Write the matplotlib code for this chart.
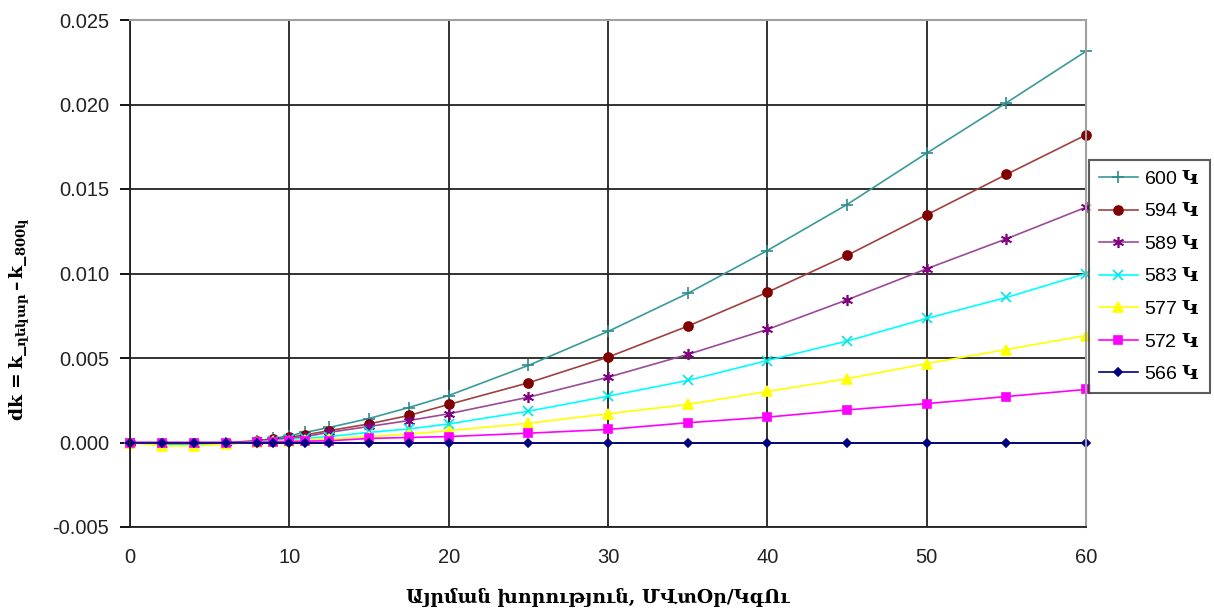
import numpy as np
import matplotlib.pyplot as plt

plt.rcParams["font.family"] = ["Liberation Sans", "DejaVu Sans"]
plt.rcParams["mathtext.fontset"] = "custom"
plt.rcParams["mathtext.rm"] = "DejaVu Serif"
plt.rcParams["mathtext.bf"] = "DejaVu Serif:bold"

# burnup, MWd/kgU
burnup = [0, 2, 4, 6, 8, 9, 10, 11, 12.5, 15, 17.5, 20, 25, 30, 35, 40, 45, 50, 55, 60]

dk_600 = [0, -0.0001, -0.0001, -0.00005, 0.0001, 0.00024, 0.0004, 0.0006, 0.00089, 0.00142, 0.00207,
          0.00278, 0.00456, 0.00657, 0.00882, 0.01136, 0.01408, 0.01712, 0.0201, 0.02315]
dk_594 = [0, 0, 0, 0, 0.0001, 0.0002, 0.0003, 0.00045, 0.0007, 0.0011, 0.0016,
          0.00225, 0.00353, 0.00505, 0.00688, 0.00889, 0.01107, 0.01347, 0.01586, 0.0182]
dk_589 = [0, -0.0001, -0.0001, -0.00005, 0.00005, 0.00015, 0.00025, 0.00035, 0.0006, 0.00095, 0.0013,
          0.0017, 0.00268, 0.00386, 0.00521, 0.00669, 0.00844, 0.01028, 0.01205, 0.01392]
dk_583 = [0, -0.00015, -0.00015, -0.0001, 0.00005, 0.0001, 0.00018, 0.00025, 0.00035, 0.0006, 0.0008,
          0.0011, 0.00185, 0.00274, 0.00367, 0.00485, 0.0060, 0.00734, 0.00858, 0.0100]
dk_577 = [0, -0.0002, -0.0002, -0.0001, 0.00003, 0.00006, 0.0001, 0.00015, 0.0002, 0.00035, 0.0005,
          0.0007, 0.00114, 0.0017, 0.00225, 0.00302, 0.00377, 0.00467, 0.0055, 0.00633]
dk_572 = [0, 0, 0, 0, 0.00002, 0.00004, 0.00006, 0.00008, 0.0001, 0.00024, 0.0003,
          0.00035, 0.00055, 0.00077, 0.00117, 0.0015, 0.00193, 0.0023, 0.00272, 0.00314]
dk_566 = [0] * 20

series = [
    ("600", dk_600, "#3a9a9a", "+", 9, "#2e8b8b"),
    ("594", dk_594, "#a04040", "o", 6.5, "#800000"),
    ("589", dk_589, "#9a4a9a", (6, 2, 0), 8, "#800080"),
    ("583", dk_583, "#00ffff", "x", 6.5, "#00e5e5"),
    ("577", dk_577, "#ffff00", "^", 6.5, "#ffff00"),
    ("572", dk_572, "#ff00ff", "s", 5.5, "#ff00ff"),
    ("566", dk_566, "#000080", "D", 4.5, "#000080"),
]

fig = plt.figure(figsize=(12.14, 6.13), dpi=100)
ax = fig.add_axes([130 / 1214, 1 - 527 / 613, 956 / 1214, 507 / 613])

for name, vals, lc, mk, ms, mc in series:
    ax.plot(burnup, vals, color=lc, lw=1.2, marker=mk, markersize=ms,
            markerfacecolor=mc, markeredgecolor=mc, markeredgewidth=1.2,
            label=name + r" $\mathbf{Կ}$", clip_on=False)

ax.set_xlim(0, 60)
ax.set_ylim(-0.005, 0.025)
ax.set_xticks(np.arange(0, 61, 10))
ax.set_yticks(np.arange(-0.005, 0.0251, 0.005))
ax.set_yticklabels([f"{v:.3f}" for v in np.arange(-0.005, 0.0251, 0.005)])
ax.tick_params(axis="x", length=0, pad=15, labelsize=14.5, labelcolor="#222222")
ax.tick_params(axis="y", length=7, width=1.3, pad=8, labelsize=14.5, labelcolor="#222222")

ax.grid(True, color="#222222", lw=1.3)
ax.set_axisbelow(True)
ax.spines["left"].set_color("#222222")
ax.spines["left"].set_linewidth(1.3)
ax.spines["bottom"].set_color("#222222")
ax.spines["bottom"].set_linewidth(1.3)
for s in ["top", "right"]:
    ax.spines[s].set_color("#a0a0a0")
    ax.spines[s].set_linewidth(1.5)

ax.set_xlabel("Այրման խորություն, ՄՎտՕր/ԿգՈւ", fontfamily="DejaVu Serif",
              fontweight="bold", fontsize=13.5)
ax.xaxis.set_label_coords(0.489, -0.12)
ax.set_ylabel(r"$\mathbf{dk\,=k\_}_{\mathbf{ղեկար}}\mathbf{\,–\,k\_}_{\mathbf{800կ}}$",
              fontsize=13.5)
ax.yaxis.set_label_coords(-0.102, 0.41)

leg = fig.legend(loc="upper left", bbox_to_anchor=(1089 / 1214, 1 - 160 / 613),
                 fontsize=14, frameon=True, fancybox=False, handlelength=2.0,
                 labelspacing=0.75, borderpad=0.5, handletextpad=0.35,
                 borderaxespad=0)
leg.get_frame().set_edgecolor("#333333")
leg.get_frame().set_linewidth(1.5)

fig.savefig("out.png", dpi=100)
